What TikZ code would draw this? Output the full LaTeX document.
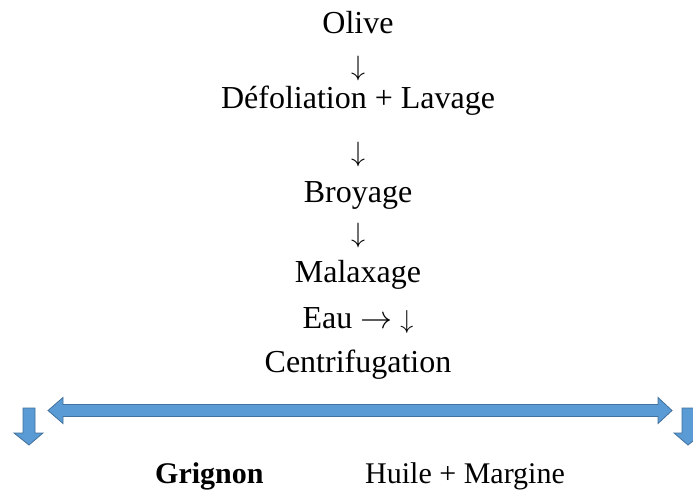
\RequirePackage{fix-cm}
\documentclass[tikz,border=0pt]{standalone}
\usepackage{fontspec}
\setmainfont{Liberation Serif}
\definecolor{arrowfill}{HTML}{5B9BD5}
\definecolor{arrowline}{HTML}{41719C}
\newcommand{\dnarrow}{\ensuremath{\downarrow}}
\newcommand{\rtarrow}{\ensuremath{\rightarrow}}
\begin{document}
\begin{tikzpicture}[x=1pt,y=-1pt,
  step text/.style={anchor=base,inner sep=0pt,font=\fontsize{32}{38}\selectfont},
  product text/.style={anchor=base west,inner sep=0pt,font=\fontsize{30}{36}\selectfont},
  flow arrow/.style={anchor=center,inner sep=0pt,font=\fontsize{28}{34}\selectfont},
  block arrow/.style={fill=arrowfill,draw=arrowline,line width=0.8pt,line join=miter}]
\useasboundingbox (0,0) rectangle (693,490);
\fill[white] (0,0) rectangle (693,490);

% process steps, one centred column
\node[step text] (olive) at (358,33)  {Olive};
\node[flow arrow] (a1)   at (358,68)  {\dnarrow};
\node[step text] (defol) at (358,108) {Défoliation + Lavage};
\node[flow arrow] (a2)   at (358,154) {\dnarrow};
\node[step text] (broy)  at (358,202) {Broyage};
\node[flow arrow] (a3)   at (358,235) {\dnarrow};
\node[step text] (malax) at (358,282) {Malaxage};
\node[step text] (eau)   at (358,328) {Eau \rtarrow{} {\fontsize{26}{30}\selectfont\dnarrow}};
\node[step text] (centr) at (358,372) {Centrifugation};

% products
\node[product text] (grignon) at (155,483) {\textbf{Grignon}};
\node[product text] (huile)   at (365,483) {Huile + Margine};

% double-headed block arrow
\draw[block arrow] (48,410.5) -- (63,397.5) -- (63,404.5) -- (658,404.5) -- (658,397.5)
  -- (672,410.5) -- (658,423.5) -- (658,416.5) -- (63,416.5) -- (63,423.5) -- cycle;

% small down arrows at both ends
\draw[block arrow] (23,408) -- (35,408) -- (35,433) -- (43,433) -- (29,445) -- (14,433)
  -- (23,433) -- cycle;
\draw[block arrow] (682,408) -- (694,408) -- (694,433) -- (703,433) -- (688,445) -- (674,433)
  -- (682,433) -- cycle;
\end{tikzpicture}
\end{document}
